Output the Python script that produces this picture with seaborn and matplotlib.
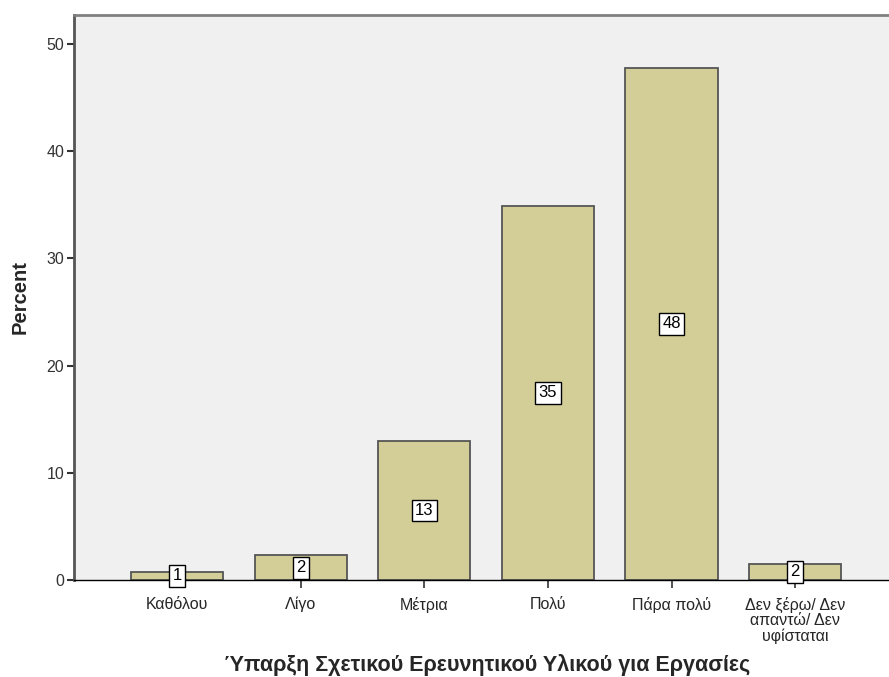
import matplotlib
matplotlib.use("Agg")
import matplotlib.pyplot as plt
import seaborn as sns
import pandas as pd

categories = ["Καθόλου", "Λίγο", "Μέτρια", "Πολύ", "Πάρα πολύ",
              "Δεν ξέρω/ Δεν\nαπαντώ/ Δεν\nυφίσταται"]
percent = [0.75, 2.3, 12.95, 34.9, 47.8, 1.5]
labels = ["1", "2", "13", "35", "48", "2"]
y_ticks = [0, 10, 20, 30, 40, 50]

sns.set_style("white")
plt.rcParams["font.family"] = ["Liberation Sans", "DejaVu Sans"]

df = pd.DataFrame({"cat": categories, "pct": percent})

fig = plt.figure(figsize=(8.89, 6.77), dpi=100)
ax = fig.add_axes([74 / 889, 1 - 580 / 677, 1 - 74 / 889, (580 - 15) / 677])
ax.set_facecolor("#F0F0F0")

sns.barplot(data=df, x="cat", y="pct", ax=ax, color="#D3CE97",
            saturation=1, width=0.745, edgecolor="#555555", linewidth=1.3)

for i, (v, lab) in enumerate(zip(percent, labels)):
    ax.text(i, v / 2, lab, ha="center", va="center", fontsize=12,
            color="black", zorder=5,
            bbox=dict(boxstyle="square,pad=0.2", fc="white", ec="black", lw=1))

ax.set_xlim(-0.835, 5.76)
ax.set_ylim(0, 52.7)
ax.set_yticks(y_ticks)
ax.set_yticklabels([str(t) for t in y_ticks], fontsize=11.5, color="#333333")
ax.tick_params(axis="y", direction="out", length=5, width=1.5, color="#333333", pad=2, left=True)
ax.tick_params(axis="x", direction="out", length=6, width=1.2, color="#333333", pad=6,
               labelsize=11.5, bottom=True)
for lab in ax.get_xticklabels():
    lab.set_linespacing(1.05)

ax.spines["right"].set_visible(False)
ax.spines["top"].set_color("#808080")
ax.spines["top"].set_linewidth(2)
ax.spines["left"].set_color("#555555")
ax.spines["left"].set_linewidth(2)
ax.spines["bottom"].set_color("black")
ax.spines["bottom"].set_linewidth(1)

ax.set_xlabel("Ύπαρξη Σχετικού Ερευνητικού Υλικού για Εργασίες",
              fontsize=15.5, fontweight="bold")
ax.set_ylabel("Percent", fontsize=14.5, fontweight="bold")
ax.xaxis.set_label_coords((487 - 74) / 815, -85 / 565)
ax.yaxis.set_label_coords(-54 / 815, 0.5)
ax.xaxis.label.set_va("center")
ax.yaxis.label.set_va("center")

fig.savefig("out.png", dpi=100, facecolor="white")
